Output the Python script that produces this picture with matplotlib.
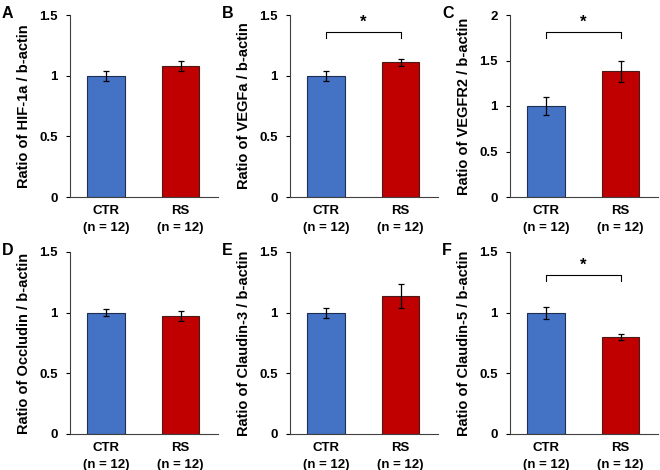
import matplotlib.pyplot as plt

plt.rcParams['font.family'] = ['Liberation Sans', 'DejaVu Sans']
plt.rcParams['font.weight'] = 'bold'

groups = ["CTR\n(n = 12)", "RS\n(n = 12)"]
letters = ["A", "B", "C", "D", "E", "F"]
markers = ["HIF-1a", "VEGFa", "VEGFR2", "Occludin", "Claudin-3", "Claudin-5"]
means = [[1.00, 1.08], [1.00, 1.11], [1.00, 1.38],
         [1.00, 0.97], [1.00, 1.14], [1.00, 0.80]]
errors = [[0.04, 0.04], [0.04, 0.03], [0.10, 0.12],
          [0.03, 0.04], [0.04, 0.10], [0.05, 0.025]]
ymaxes = [1.5, 1.5, 2.0, 1.5, 1.5, 1.5]
# height of the significance bracket (None = not significant)
brackets = [None, 1.36, 1.81, None, None, 1.31]

colors = ["#4472C4", "#C00000"]
edges = ["#1F2D50", "#4A1A1A"]

W, H = 660, 470
fig = plt.figure(figsize=(W / 100, H / 100), dpi=100)

for i in range(6):
    col, row = i % 3, i // 3
    left = 70 + 220 * col
    top = 15 + 237 * row
    ax = fig.add_axes([left / W, 1 - (top + 182) / H, 148 / W, 182 / H])
    ymax = ymaxes[i]
    ax.bar([0, 1], means[i], width=0.5, color=colors, edgecolor=edges, linewidth=0.8)
    ax.errorbar([0, 1], means[i], yerr=errors[i], fmt='none', ecolor='black',
                elinewidth=0.9, capsize=2, capthick=0.9)
    ax.set_xlim(-0.48, 1.5)
    ax.set_ylim(0, ymax)
    ticks = [0, 0.5, 1, 1.5] if ymax == 1.5 else [0, 0.5, 1, 1.5, 2]
    ax.set_yticks(ticks)
    ax.set_yticklabels(["0", "0.5", "1", "1.5", "2"][:len(ticks)])
    ax.set_xticks([0, 1])
    ax.set_xticklabels(groups, fontsize=9.5, fontweight='bold', linespacing=1.5)
    ax.tick_params(axis='x', length=0, pad=6)
    ax.tick_params(axis='y', labelsize=9.5, length=3, direction='out', width=0.8, pad=6)
    for s in ['top', 'right']:
        ax.spines[s].set_visible(False)
    for s in ['left', 'bottom']:
        ax.spines[s].set_color('#404040')
        ax.spines[s].set_linewidth(0.8)
    ax.set_ylabel("Ratio of %s / b-actin" % markers[i], fontsize=10.5, fontweight='bold', labelpad=6)
    fig.text((left - 68) / W, 1 - (top - 9) / H, letters[i], fontsize=11.5, fontweight='bold',
             va='top', ha='left')
    yb = brackets[i]
    if yb is not None:
        drop = 6 / 182 * ymax
        ax.plot([0, 0, 1, 1], [yb - drop, yb, yb, yb - drop], color='black', linewidth=0.8)
        ax.text(0.5, yb + ymax * 0.012, "*", ha='center', va='bottom', fontsize=12, fontweight='bold')

fig.savefig("out.png", dpi=100)
